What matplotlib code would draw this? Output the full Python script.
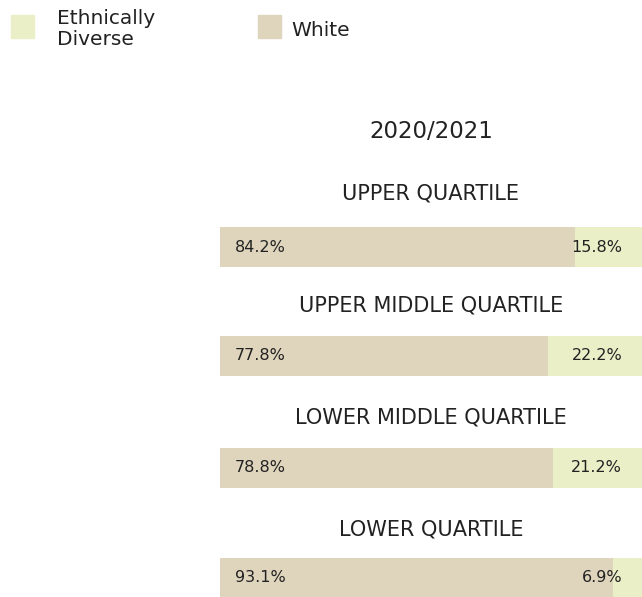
import matplotlib
matplotlib.use("Agg")
import matplotlib.pyplot as plt
from matplotlib.patches import Rectangle

plt.rcParams['font.family'] = ['DejaVu Sans']

title = "2020/2021"
categories = ["UPPER QUARTILE", "UPPER MIDDLE QUARTILE", "LOWER MIDDLE QUARTILE", "LOWER QUARTILE"]
white = [84.2, 77.8, 78.8, 93.1]
diverse = [15.8, 22.2, 21.2, 6.9]
legend_labels = ["Ethnically\nDiverse", "White"]

C_WHITE = "#dfd5bd"
C_DIV = "#eaefc7"
TXT = "#222222"

W, H = 642, 597
fig = plt.figure(figsize=(W / 100, H / 100), dpi=100)

# axes in pixel-like coordinates: x data 0-100 spans 220..642 px, y = pixel rows
ax = fig.add_axes([220 / W, 0, 422 / W, 1])
ax.set_xlim(0, 100)
ax.set_ylim(H, 0)
ax.axis("off")

bar_centers = [247, 356, 468, 578]
label_y = [194, 305, 418, 529]
bar_h = 40

ax.barh(bar_centers, white, height=bar_h, color=C_WHITE, left=0)
ax.barh(bar_centers, diverse, height=bar_h, color=C_DIV, left=white)

for yc, ly, cat, w, d in zip(bar_centers, label_y, categories, white, diverse):
    ax.text(50, ly, cat, ha="center", va="center", fontsize=15, color=TXT)
    ax.text(3.5, yc, f"{w}%", ha="left", va="center", fontsize=11.5, color=TXT)
    ax.text(95.3, yc, f"{d}%", ha="right", va="center", fontsize=11.5, color=TXT)

ax.text(50, 132, title, ha="center", va="center", fontsize=16.5, color=TXT)

# legend drawn in figure pixel coordinates
def px(x, y):
    return x / W, 1 - y / H

for (sx, sy), col, (tx, ty), lab in [((11, 15), C_DIV, (57, 29), legend_labels[0]),
                                      ((258, 15), C_WHITE, (291, 30), legend_labels[1])]:
    x0, y0 = px(sx, sy + 23)
    fig.patches.append(Rectangle((x0, y0), 23 / W, 23 / H, transform=fig.transFigure,
                                 color=col, zorder=1))
    fx, fy = px(tx, ty)
    fig.text(fx, fy, lab, ha="left", va="center", fontsize=14.5, color=TXT, linespacing=1.12)

fig.savefig("out.png", dpi=100)
